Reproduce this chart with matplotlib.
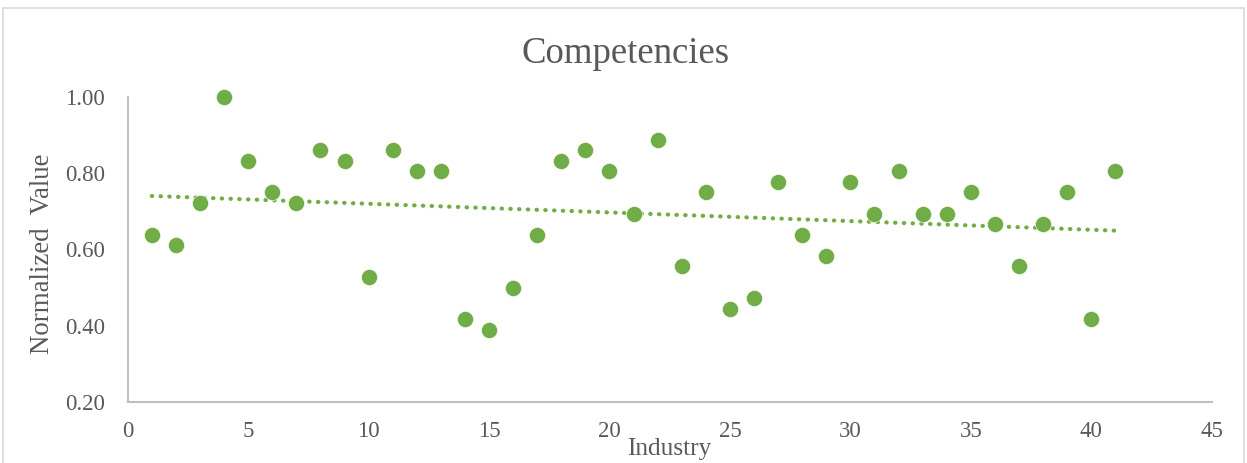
import matplotlib
matplotlib.use("Agg")
import matplotlib.pyplot as plt
from matplotlib.patches import Rectangle
import numpy as np

industry = list(range(1, 42))
normalized = [
    0.639, 0.611, 0.722, 1.000, 0.833, 0.750, 0.722, 0.861, 0.833, 0.528,
    0.861, 0.806, 0.806, 0.417, 0.389, 0.500, 0.639, 0.833, 0.861, 0.806,
    0.694, 0.889, 0.556, 0.750, 0.444, 0.472, 0.778, 0.639, 0.583, 0.778,
    0.694, 0.806, 0.694, 0.694, 0.750, 0.667, 0.556, 0.667, 0.750, 0.417,
    0.806,
]
x_ticks = list(range(0, 50, 5))
y_ticks = [0.20, 0.40, 0.60, 0.80, 1.00]

GREEN = "#70AD47"
TEXT = "#595959"
AXIS = "#BFBFBF"

plt.rcParams["font.family"] = ["Liberation Serif", "DejaVu Serif"]

W, H = 1247, 463
fig = plt.figure(figsize=(W / 100, H / 100), dpi=100)
ax = fig.add_axes([127.7 / W, 1 - 401.7 / H, (1211.7 - 127.7) / W, (401.7 - 97.3) / H])

# chart area outline (bottom edge falls outside the canvas)
fig.patches.append(Rectangle((2.5 / W, -0.1), (1244 - 2.5) / W, 1.1 - 8.5 / H,
                             transform=fig.transFigure, fill=False,
                             edgecolor="#D9D9D9", lw=1.2))

x = np.array(industry, dtype=float)
y = np.array(normalized)
ax.plot(x, y, "o", color=GREEN, ms=11.6, mec="white", mew=0.4, zorder=3,
        clip_on=False)

# linear trendline
slope, intercept = np.polyfit(x, y, 1)
ax.plot([x[0], x[-1]], [intercept + slope * x[0], intercept + slope * x[-1]],
        color=GREEN, lw=3.0, ls=(0, (0.1, 2.0)), dash_capstyle="round", zorder=2)

ax.set_xlim(0, 45)
ax.set_ylim(0.2, 1.0)
ax.set_xticks(x_ticks)
ax.set_yticks(y_ticks)
ax.set_yticklabels([f"{v:.2f}" for v in y_ticks])
ax.tick_params(length=0, labelsize=16.5, labelcolor=TEXT)
ax.tick_params(axis="y", pad=16.5)
ax.tick_params(axis="x", pad=14)

for side in ("top", "right"):
    ax.spines[side].set_visible(False)
for side in ("left", "bottom"):
    ax.spines[side].set_color(AXIS)
    ax.spines[side].set_linewidth(1.5)

fig.text(43 / W, 1 - 254 / H, "Normalized  Value", fontsize=19.4, color=TEXT,
         rotation=90, ha="center", va="center")
fig.text(669.7 / W, 1 - 449 / H, "Industry", fontsize=18.3, color=TEXT,
         ha="center", va="center")
fig.text(626 / W, 1 - 63 / H, "Competencies", fontsize=26.5, color=TEXT,
         ha="center", va="baseline")

fig.savefig("out.png", dpi=100, facecolor="white")
